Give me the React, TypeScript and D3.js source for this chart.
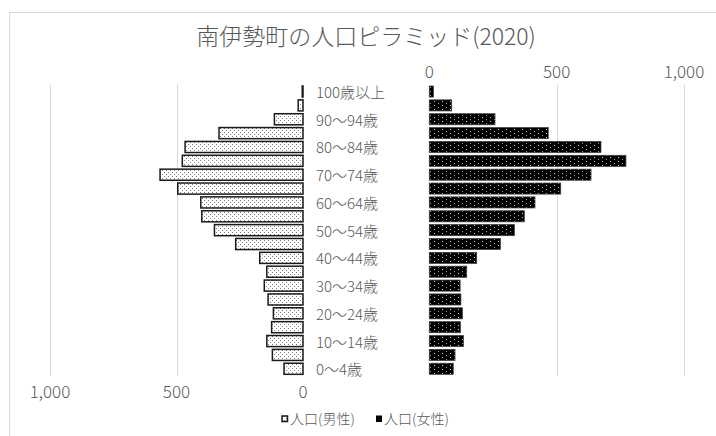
import React, { useEffect, useRef } from 'react';
import * as d3 from 'd3';

// age groups from youngest to oldest
const ageGroups = [
  '0～4歳', '5～9歳', '10～14歳', '15～19歳', '20～24歳', '25～29歳', '30～34歳',
  '35～39歳', '40～44歳', '45～49歳', '50～54歳', '55～59歳', '60～64歳', '65～69歳',
  '70～74歳', '75～79歳', '80～84歳', '85～89歳', '90～94歳', '95～99歳', '100歳以上',
];
const maleCounts = [75, 121, 143, 124, 117, 138, 153, 143, 171, 266, 350, 400, 404, 495, 565, 477, 466, 332, 113, 19, 3];
const femaleCounts = [94, 101, 134, 122, 130, 124, 121, 147, 186, 279, 334, 373, 415, 516, 635, 772, 674, 467, 258, 88, 16];
const axisTicks = [0, 500, 1000];
const seriesNames = ['人口(男性)', '人口(女性)'];
const chartTitle = '南伊勢町の人口ピラミッド(2020)';

const W = 716;
const H = 436;
const FONT = '"Noto Sans CJK JP", "Noto Sans", sans-serif';
const GRAY = '#595959';

const PopulationPyramid: React.FC = () => {
  const svgRef = useRef<SVGSVGElement | null>(null);

  useEffect(() => {
    if (!svgRef.current) return;
    const svg = d3.select(svgRef.current);
    svg.selectAll('*').remove();

    const defs = svg.append('defs');
    const pMale = defs.append('pattern')
      .attr('id', 'dotLight').attr('width', 4).attr('height', 4)
      .attr('patternUnits', 'userSpaceOnUse');
    pMale.append('rect').attr('width', 4).attr('height', 4).attr('fill', '#fff');
    pMale.append('rect').attr('x', 0).attr('y', 0).attr('width', 1).attr('height', 1).attr('fill', '#7a7a7a');
    pMale.append('rect').attr('x', 2).attr('y', 2).attr('width', 1).attr('height', 1).attr('fill', '#7a7a7a');

    const pFemale = defs.append('pattern')
      .attr('id', 'dotDark').attr('width', 8).attr('height', 4)
      .attr('patternUnits', 'userSpaceOnUse');
    pFemale.append('rect').attr('width', 8).attr('height', 4).attr('fill', '#000');
    pFemale.append('rect').attr('x', 2).attr('y', 1).attr('width', 1).attr('height', 1).attr('fill', '#cfcfcf');
    pFemale.append('rect').attr('x', 6).attr('y', 3).attr('width', 1).attr('height', 1).attr('fill', '#9a9a9a');

    // chart frame
    svg.append('rect')
      .attr('x', 9.5).attr('y', 12.5).attr('width', 760).attr('height', 460)
      .attr('fill', '#fff').attr('stroke', '#d9d9d9');

    const txt = (sel: d3.Selection<SVGTextElement, any, any, any>, size: number) =>
      sel.style('font-family', FONT).style('font-size', `${size}px`)
        .style('font-weight', 300).style('fill', GRAY);

    txt(svg.append('text')
      .attr('x', 366).attr('y', 45)
      .attr('text-anchor', 'middle')
      .text(chartTitle), 23);

    const y = d3.scaleBand<string>()
      .domain([...ageGroups].reverse())
      .range([84.6, 375.7])
      .paddingInner(0.2).paddingOuter(0.1);
    const xLeft = d3.scaleLinear().domain([0, 1000]).range([303, 50]);
    const xRight = d3.scaleLinear().domain([0, 1000]).range([429.3, 684]);

    const grid = svg.append('g').attr('stroke', '#d9d9d9').attr('stroke-width', 1);
    axisTicks.filter(t => t > 0).forEach(t => {
      [xLeft(t), xRight(t)].forEach(gx => {
        grid.append('line')
          .attr('x1', Math.round(gx) + 0.5).attr('x2', Math.round(gx) + 0.5)
          .attr('y1', 84.6).attr('y2', 375.7);
      });
    });

    const fmt = d3.format(',');
    axisTicks.forEach(t => {
      txt(svg.append('text')
        .attr('x', xRight(t)).attr('y', 77.5)
        .attr('text-anchor', 'middle')
        .text(fmt(t)), 17);
      txt(svg.append('text')
        .attr('x', xLeft(t)).attr('y', 397.5)
        .attr('text-anchor', 'middle')
        .text(fmt(t)), 17);
    });

    const bh = y.bandwidth();
    svg.append('g').selectAll('rect')
      .data(ageGroups.map((a, i) => ({ a, v: maleCounts[i] })))
      .enter().append('rect')
      .attr('x', d => xLeft(d.v))
      .attr('y', d => y(d.a)!)
      .attr('width', d => xLeft(0) - xLeft(d.v))
      .attr('height', bh)
      .attr('fill', 'url(#dotLight)')
      .attr('stroke', '#1a1a1a').attr('stroke-width', 1.5);

    svg.append('g').selectAll('rect')
      .data(ageGroups.map((a, i) => ({ a, v: femaleCounts[i] })))
      .enter().append('rect')
      .attr('x', xRight(0))
      .attr('y', d => y(d.a)!)
      .attr('width', d => xRight(d.v) - xRight(0))
      .attr('height', bh)
      .attr('fill', 'url(#dotDark)')
      .attr('stroke', '#3a3a3a').attr('stroke-width', 0.75);

    // every other age label
    svg.append('g').selectAll('text')
      .data(ageGroups.filter((_, i) => i % 2 === 0))
      .enter().append('text')
      .attr('x', 316)
      .attr('y', d => y(d)! + bh / 2 + 6.5)
      .style('font-family', FONT).style('font-size', '15px')
      .style('font-weight', 300).style('fill', GRAY)
      .text(d => d);

    // legend
    const lg = svg.append('g');
    lg.append('rect').attr('x', 282).attr('y', 416).attr('width', 5.5).attr('height', 5.5)
      .attr('fill', 'url(#dotLight)').attr('stroke', '#1a1a1a').attr('stroke-width', 1.5);
    txt(lg.append('text').attr('x', 290).attr('y', 424).text(seriesNames[0]), 14);
    lg.append('rect').attr('x', 376).attr('y', 415.5).attr('width', 6).attr('height', 6.5)
      .attr('fill', '#000');
    txt(lg.append('text').attr('x', 384).attr('y', 424).text(seriesNames[1]), 14);
  }, []);

  return (
    <svg ref={svgRef} width={W} height={H}
      style={{ position: 'absolute', left: 0, top: 0, display: 'block', background: '#fff' }} />
  );
};

export default function App() {
  return <PopulationPyramid />;
}
